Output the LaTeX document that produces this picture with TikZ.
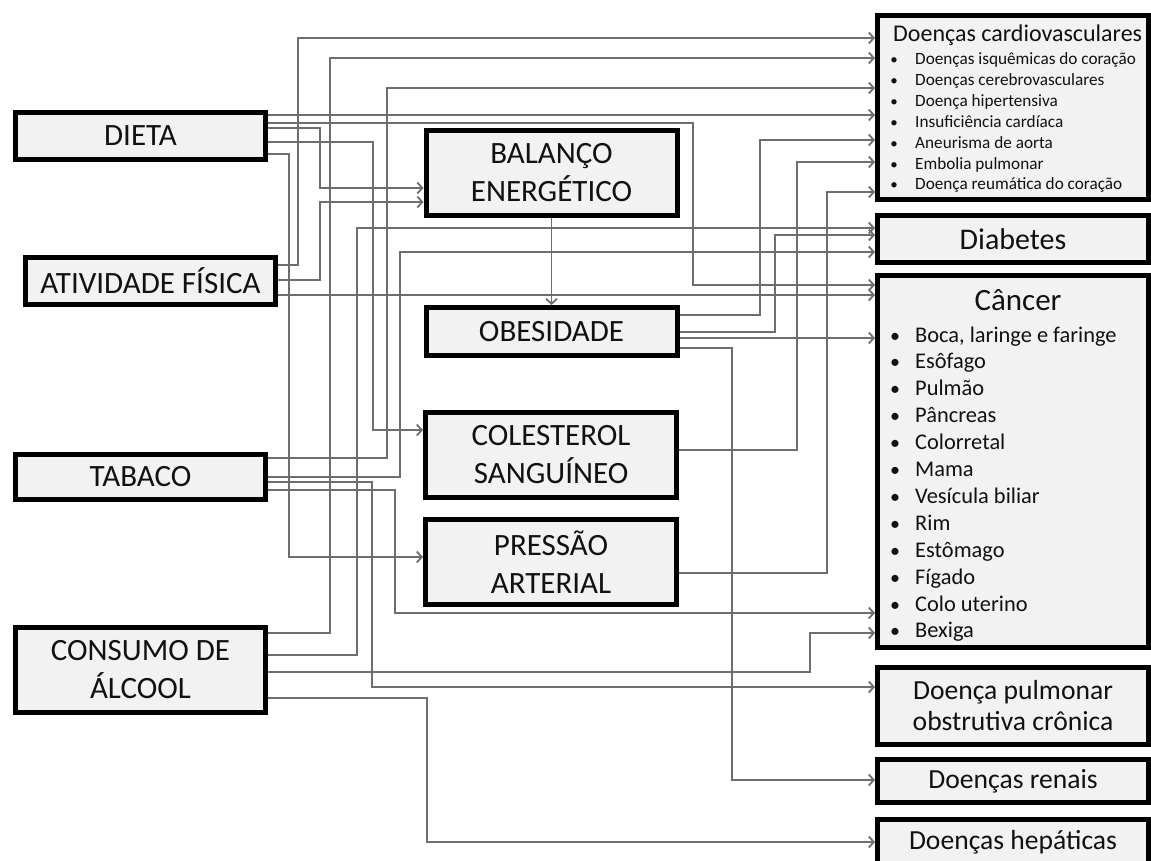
\documentclass[tikz,border=0pt]{standalone}
\usepackage{fontspec}
\setmainfont{Carlito}
\usetikzlibrary{arrows.meta}
\definecolor{boxfill}{HTML}{F2F2F2}
\definecolor{linkgray}{HTML}{6E6E6E}
\definecolor{ink}{HTML}{111111}
\begin{document}
\begin{tikzpicture}[x=1pt,y=-1pt,
  box/.style={draw=black, line width=5pt, fill=boxfill, inner sep=0pt, align=center,
    text=ink, font=\fontsize{31}{38}\selectfont},
  leftbox/.style={box, minimum width=250pt},
  midbox/.style={box, minimum width=251pt},
  rightbox/.style={box, minimum width=271pt, font=\fontsize{27.6}{31}\selectfont},
  link/.style={draw=linkgray, line width=1.8pt, -{Straight Barb[length=5pt,width=11pt]}},
  itemtext/.style={anchor=base west, inner sep=0pt, text=ink},
  bullet/.style={anchor=base, inner sep=0pt, text=ink}]
\useasboundingbox (0,0) rectangle (1151,861);

% risk factors
\node[leftbox, minimum height=47pt] (dieta)  at (140.5,136)   {DIETA};
\node[leftbox, minimum height=47pt] (ativ)   at (150.5,281)   {ATIVIDADE FÍSICA};
\node[leftbox, minimum height=45pt] (tabaco) at (140.5,477)   {TABACO};
\node[leftbox, minimum height=85pt] (alcool) at (140.5,670)   {CONSUMO DE\\ÁLCOOL};

% intermediate factors
\node[midbox, minimum height=85pt] (balanco) at (551.5,173)  {BALANÇO\\ENERGÉTICO};
\node[midbox, minimum height=48pt] (obes)    at (551.5,331.5){OBESIDADE};
\node[midbox, minimum height=85pt] (colest)  at (551,455)    {COLESTEROL\\SANGUÍNEO};
\node[midbox, minimum height=85pt] (press)   at (551,562)    {PRESSÃO\\ARTERIAL};

% outcomes
\node[rightbox, minimum height=184pt] (cardio) at (1013,107.5) {};
\node[rightbox, minimum height=47pt, font=\fontsize{30}{36}\selectfont] (diab) at (1013,239) {\raisebox{-1pt}{Diabetes}};
\node[rightbox, minimum height=372pt] (cancer) at (1013,461.5) {};
\node[rightbox, minimum height=77pt] (dpoc)   at (1013,706)   {Doença pulmonar\\obstrutiva crônica};
\node[rightbox, minimum height=43pt] (renais) at (1013,781)   {Doenças renais};
\node[rightbox, minimum height=46pt] (hepat)  at (1013,842.5) {Doenças hepáticas};

% cardiovascular list
\node[itemtext, font=\fontsize{24}{28}\selectfont] (cvtitle) at (893,42) {Doenças cardiovasculares};
\foreach \txt [count=\i] in {Doenças isquêmicas do coração, Doenças cerebrovasculares,
    Doença hipertensiva, Insuficiência cardíaca, Aneurisma de aorta,
    Embolia pulmonar, Doença reumática do coração} {
  \node[bullet, font=\fontsize{15}{20}\selectfont] (cvb\i) at (894,{65+20.83*(\i-1)}) {•};
  \node[itemtext, font=\fontsize{17.2}{20}\selectfont] (cv\i) at (915,{65+20.83*(\i-1)}) {\txt};
}

% cancer list
\node[bullet, font=\fontsize{31}{36}\selectfont] (catitle) at (1018,310) {Câncer};
\foreach \txt [count=\i] in {{Boca, laringe e faringe}, Esôfago, Pulmão, Pâncreas,
    Colorretal, Mama, Vesícula biliar, Rim, Estômago, Fígado, Colo uterino, Bexiga} {
  \node[bullet, font=\fontsize{20}{26}\selectfont] (cab\i) at (895,{342+26.9*(\i-1)}) {•};
  \node[itemtext, font=\fontsize{22.4}{26}\selectfont] (ca\i) at (915,{342+26.9*(\i-1)}) {\txt};
}

% links into the cardiovascular box
\draw[link] (ativ.east |- 0,265)   -| (298,38)  -- (cardio.west |- 0,38);
\draw[link] (alcool.east |- 0,633) -| (330,58)  -- (cardio.west |- 0,58);
\draw[link] (tabaco.east |- 0,458) -| (387,88)  -- (cardio.west |- 0,88);
\draw[link] (dieta.east |- 0,115)  -- (cardio.west |- 0,115);
\draw[link] (obes.east |- 0,315)   -| (760,140) -- (cardio.west |- 0,140);
\draw[link] (colest.east |- 0,450) -| (797,162) -- (cardio.west |- 0,162);
\draw[link] (press.east |- 0,573)  -| (827,192) -- (cardio.west |- 0,192);

% links into diabetes
\draw[link] (alcool.east |- 0,655) -| (357,228) -- (diab.west |- 0,228);
\draw[link] (obes.east |- 0,332)   -| (775,235) -- (diab.west |- 0,235);
\draw[link] (tabaco.east |- 0,477) -| (400,252) -- (diab.west |- 0,252);

% links into cancer
\draw[link] (dieta.east |- 0,123)  -| (693,285) -- (cancer.west |- 0,285);
\draw[link] (ativ.east |- 0,295)   -- (cancer.west |- 0,295);
\draw[link] (obes.east |- 0,338)   -- (cancer.west |- 0,338);
\draw[link] (tabaco.east |- 0,490) -| (395,613) -- (cancer.west |- 0,613);
\draw[link] (alcool.east |- 0,672) -| (810,633) -- (cancer.west |- 0,633);

% remaining outcomes
\draw[link] (tabaco.east |- 0,482) -| (372,687) -- (dpoc.west |- 0,687);
\draw[link] (obes.east |- 0,348)   -| (732,780) -- (renais.west |- 0,780);
\draw[link] (alcool.east |- 0,698) -| (427,842) -- (hepat.west |- 0,842);

% links into intermediate factors
\draw[link] (dieta.east |- 0,128)  -| (320,188) -- (balanco.west |- 0,188);
\draw[link] (ativ.east |- 0,280)   -| (320,202) -- (balanco.west |- 0,202);
\draw[link] (dieta.east |- 0,142)  -| (373,430) -- (colest.west |- 0,430);
\draw[link] (dieta.east |- 0,154)  -| (289,557) -- (press.west |- 0,557);
\draw[link] (balanco.south) -- (obes.north);
\end{tikzpicture}
\end{document}
